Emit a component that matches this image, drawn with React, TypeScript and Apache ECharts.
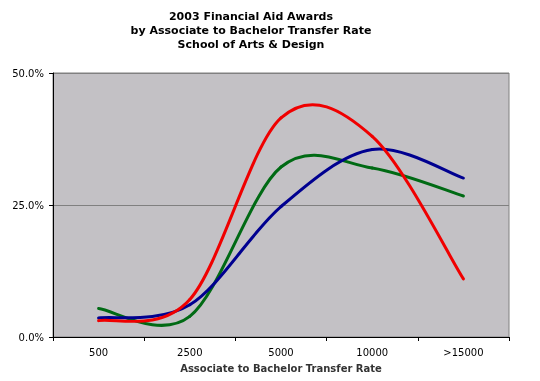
import React, { useEffect, useRef } from "react";
import * as echarts from "echarts";

const categories = ["500", "2500", "5000", "10000", ">15000"];
const seriesNames = ["Series A", "Series B", "Series C"];
const blueValues = [3.6, 6.1, 24.7, 35.5, 30.1];
const greenValues = [5.4, 3.9, 32.2, 32.0, 26.7];
const redValues = [3.1, 7.1, 41.5, 38.0, 11.0];
const yTicks = [0, 25, 50];
const titleLines = ["2003 Financial Aid Awards", "by Associate to Bachelor Transfer Rate", "School of Arts & Design"];
const xAxisTitle = "Associate to Bachelor Transfer Rate";

function makeSeries(name: string, values: number[], color: string) {
  return {
    type: "custom",
    name,
    coordinateSystem: "cartesian2d",
    encode: { x: 0, y: 1 },
    data: values.map((v, i) => [i, v]),
    renderItem: (params: any, api: any) => {
      const i = params.dataIndex;
      const n = values.length;
      if (i >= n - 1) return null;
      const p = (k: number) => api.coord([Math.max(0, Math.min(n - 1, k)), values[Math.max(0, Math.min(n - 1, k))]]);
      const p0 = p(i - 1), p1 = p(i), p2 = p(i + 1), p3 = p(i + 2);
      const t = 1 / 6;
      return {
        type: "bezierCurve",
        shape: {
          x1: p1[0], y1: p1[1],
          cpx1: p1[0] + (p2[0] - p0[0]) * t, cpy1: p1[1] + (p2[1] - p0[1]) * t,
          cpx2: p2[0] - (p3[0] - p1[0]) * t, cpy2: p2[1] - (p3[1] - p1[1]) * t,
          x2: p2[0], y2: p2[1],
        },
        style: { stroke: color, lineWidth: 3, fill: null, lineCap: "round" },
      };
    },
  };
}

export default function App() {
  const ref = useRef<HTMLDivElement>(null);
  useEffect(() => {
    if (!ref.current) return;
    const chart = echarts.init(ref.current, null, { renderer: "svg" });
    chart.setOption({
      animation: false,
      graphic: [
        {
          type: "text",
          x: 251,
          y: 9,
          style: {
            text: titleLines.join("\n"),
            textAlign: "center",
            textVerticalAlign: "top",
            font: "bold 11px 'DejaVu Sans'",
            lineHeight: 14,
            fill: "#000",
          },
        },
      ],
      grid: {
        left: 53, right: 31, top: 73, bottom: 44,
        show: true, backgroundColor: "#C3C1C5", borderColor: "#808080", borderWidth: 1,
      },
      xAxis: {
        type: "category",
        data: categories,
        boundaryGap: true,
        axisLine: { lineStyle: { color: "#000", width: 1 } },
        axisTick: { show: true, length: 4, alignWithLabel: false, lineStyle: { color: "#000" } },
        axisLabel: { color: "#000", fontFamily: "DejaVu Sans", fontSize: 10, margin: 10 },
        splitLine: { show: false },
        name: xAxisTitle,
        nameLocation: "middle",
        nameGap: 26,
        nameTextStyle: { color: "#333", fontFamily: "DejaVu Sans", fontSize: 10, fontWeight: "bold" },
      },
      yAxis: {
        type: "value",
        min: yTicks[0],
        max: yTicks[yTicks.length - 1],
        interval: yTicks[1] - yTicks[0],
        axisLine: { show: true, lineStyle: { color: "#000", width: 1 } },
        axisTick: { show: true, length: 4, lineStyle: { color: "#000" } },
        axisLabel: {
          color: "#000", fontFamily: "DejaVu Sans", fontSize: 10, margin: 9,
          formatter: (v: number) => v.toFixed(1) + "%",
        },
        splitLine: { show: true, lineStyle: { color: "#808080", width: 1 } },
      },
      series: [
        makeSeries(seriesNames[1], greenValues, "#006A14"),
        makeSeries(seriesNames[0], blueValues, "#000090"),
        makeSeries(seriesNames[2], redValues, "#F00000"),
      ],
    });
    return () => chart.dispose();
  }, []);
  return <div ref={ref} style={{ position: "fixed", left: 0, top: 0, width: 540, height: 381 }} />;
}
